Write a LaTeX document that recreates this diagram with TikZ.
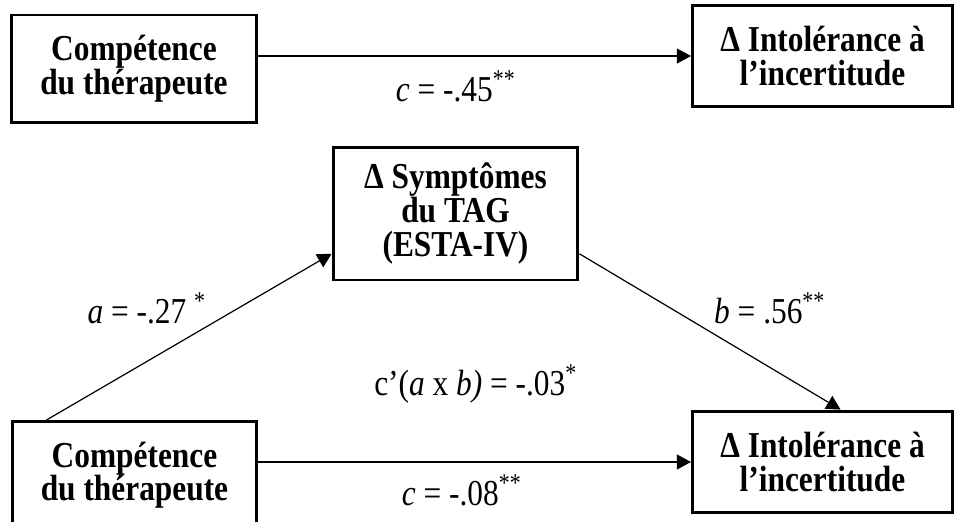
\documentclass[tikz,border=0pt]{standalone}
\usepackage{fontspec}
\setmainfont{Liberation Serif}[FakeStretch=0.86]
\usetikzlibrary{positioning,arrows.meta}

\begin{document}
\begin{tikzpicture}[
x=0.37pt,y=-0.37pt,
varbox/.style={
  draw,
  line width=1.1pt,
  inner sep=0pt,
  align=center,
  font=\fontsize{13.5}{12.4}\selectfont\bfseries
},
cmpbox/.style={
  varbox,
  minimum width=90.6pt,
  minimum height=39.6pt
},
intbox/.style={
  varbox,
  minimum width=96.2pt,
  minimum height=37.7pt
},
coef/.style={
  inner sep=0pt,
  font=\fontsize{13.5}{16}\selectfont
},
link/.style={
  line width=0.45pt,
  -{Triangle[length=5.2pt,width=5.5pt]}
}
]
\useasboundingbox (0,0) rectangle (955,521);

% total effect
\node[cmpbox] (comp1) at (134,68.5) 
  {Compétence\\du thérapeute};
\node[intbox] (intol1) at (822.5,56) 
  {Δ Intolérance à\\l’incertitude};
\node[coef] (c1) at (456,86) 
  {\textit{c} = -.45\textsuperscript{**}};

% mediation model
\node[varbox,minimum width=90.6pt,minimum height=49.2pt] (sympt) at (455.5,213.5) 
  {Δ Symptômes\\du TAG\\(ESTA-IV)};
\node[cmpbox] (comp2) at (134.5,475) 
  {Compétence\\du thérapeute};
\node[intbox] (intol2) at (822.5,462) 
  {Δ Intolérance à\\l’incertitude};

\node[coef] (ca) at (147,308) 
  {\textit{a} = -.27 \textsuperscript{*}};
\node[coef] (cb) at (770,308) 
  {\textit{b} = .56\textsuperscript{**}};
\node[coef] (cab) at (476,384) 
  {c’(\textit{a} x \textit{b)} = -.03\textsuperscript{*}};
\node[coef] (c2) at (462,490) 
  {\textit{c} = -.08\textsuperscript{**}};

\draw[link] (comp1.east |- intol1.west) -- (intol1.west);
\draw[link] (comp2.148) -- (sympt.198);
\draw[link] (sympt.342) -- (intol2.71);
\draw[link] (comp2.east |- intol2.west) -- (intol2.west);
\end{tikzpicture}
\end{document}
